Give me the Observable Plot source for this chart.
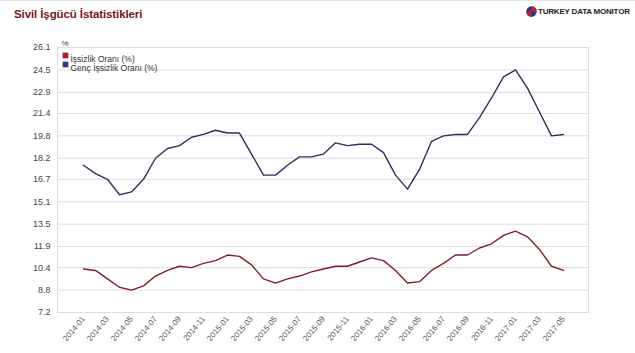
<!DOCTYPE html>
<html>
<head>
<meta charset="utf-8">
<script src="https://cdn.jsdelivr.net/npm/d3@7"></script>
<script src="https://cdn.jsdelivr.net/npm/@observablehq/plot@0.6"></script>
<style>
  html, body { margin: 0; padding: 0; background: #fff; }
  body { width: 635px; height: 353px; overflow: hidden; position: relative; font-family: "Liberation Sans", Arial, sans-serif; border-top: 1px solid #e4e4e4; box-sizing: border-box; }
  #header { position: relative; height: 27px; }
  #title { position: absolute; left: 14px; top: 7px; font-size: 11.5px; font-weight: bold; color: #7a1518; letter-spacing: -0.1px; }
  #logo { position: absolute; left: 526px; top: 5px; display: flex; align-items: center; font-size: 8px; font-weight: bold; color: #222; letter-spacing: -0.2px; }
  #logo svg { margin-right: 1px; }
</style>
</head>
<body>
<div id="header">
  <div id="title">Sivil İşgücü İstatistikleri</div>
  <div id="logo"><svg width="11" height="11" viewBox="0 0 11 11"><circle cx="5.5" cy="5.5" r="5.2" fill="#2b3a8c"/><path d="M5.5 0.3 A5.2 5.2 0 0 1 10.7 5.5 L5.5 5.5 Z" fill="#c8202a"/><path d="M0.3 5.5 A5.2 5.2 0 0 0 5.5 10.7 L5.5 5.5 Z" fill="#c8202a"/></svg>TURKEY DATA MONITOR</div>
</div>
<div id="chart"></div>
<script>
const months = ["2014-01","2014-02","2014-03","2014-04","2014-05","2014-06","2014-07","2014-08","2014-09","2014-10","2014-11","2014-12",
  "2015-01","2015-02","2015-03","2015-04","2015-05","2015-06","2015-07","2015-08","2015-09","2015-10","2015-11","2015-12",
  "2016-01","2016-02","2016-03","2016-04","2016-05","2016-06","2016-07","2016-08","2016-09","2016-10","2016-11","2016-12",
  "2017-01","2017-02","2017-03","2017-04","2017-05"];

// İşsizlik Oranı (%)
const unemployment = [10.3, 10.2, 9.6, 9.0, 8.8, 9.1, 9.8, 10.2, 10.5, 10.4, 10.7, 10.9,
  11.3, 11.2, 10.6, 9.6, 9.3, 9.6, 9.8, 10.1, 10.3, 10.5, 10.5, 10.8,
  11.1, 10.9, 10.2, 9.3, 9.4, 10.2, 10.7, 11.3, 11.3, 11.8, 12.1, 12.7,
  13.0, 12.6, 11.7, 10.5, 10.2];

// Genç İşsizlik Oranı (%)
const youthUnemployment = [17.7, 17.1, 16.7, 15.6, 15.8, 16.7, 18.2, 18.9, 19.1, 19.7, 19.9, 20.2,
  20.0, 20.0, 18.5, 17.0, 17.0, 17.7, 18.3, 18.3, 18.5, 19.3, 19.1, 19.2,
  19.2, 18.6, 17.0, 16.0, 17.4, 19.4, 19.8, 19.9, 19.9, 21.1, 22.5, 24.0,
  24.5, 23.2, 21.5, 19.8, 19.9];

const seriesNames = ["İşsizlik Oranı (%)", "Genç İşsizlik Oranı (%)"];
const lineColors = ["#7d2027", "#2e2f5c"];
const legendColors = ["#c0161e", "#2c3590"];

const yTicks = [7.2, 8.8, 10.4, 11.9, 13.5, 15.1, 16.7, 18.2, 19.8, 21.4, 22.9, 24.5, 26.1];
const xTicks = ["2014-01","2014-03","2014-05","2014-07","2014-09","2014-11","2015-01","2015-03","2015-05","2015-07","2015-09","2015-11",
  "2016-01","2016-03","2016-05","2016-07","2016-09","2016-11","2017-01","2017-03","2017-05"];

const rowsA = months.map((m, i) => ({month: m, value: unemployment[i]}));
const rowsB = months.map((m, i) => ({month: m, value: youthUnemployment[i]}));

const chart = Plot.plot({
  width: 635,
  height: 326,
  marginTop: 19,
  marginBottom: 42,
  marginLeft: 57,
  marginRight: 47,
  style: {fontFamily: "'Liberation Sans', Arial, sans-serif", fontSize: "9px", color: "#444", background: "#fff"},
  x: {type: "point", domain: months, padding: 1.05, label: null},
  y: {domain: [7.2, 26.1], label: null},
  marks: [
    Plot.gridY(yTicks, {stroke: "#dcdcdc", strokeOpacity: 1}),
    Plot.frame({stroke: "#dcdcdc"}),
    Plot.axisY(yTicks, {tickSize: 0, tickPadding: 7, fontSize: 9, tickFormat: d => d.toFixed(1), label: null}),
    Plot.axisX(xTicks, {tickSize: 0, tickPadding: 5, tickRotate: -50, fontSize: 8, fill: "#555", label: null}),
    Plot.line(rowsA, {x: "month", y: "value", stroke: lineColors[0], strokeWidth: 1.4}),
    Plot.line(rowsB, {x: "month", y: "value", stroke: lineColors[1], strokeWidth: 1.4}),
    Plot.text(["%"], {frameAnchor: "top-left", dx: 4, dy: -7, textAnchor: "start", fontSize: 8, fill: "#444"}),
    Plot.dot([seriesNames[0]], {frameAnchor: "top-left", dx: 8, dy: 8, symbol: "square", r: 3, fill: legendColors[0], stroke: "#555", strokeWidth: 0.4}),
    Plot.text([seriesNames[0]], {frameAnchor: "top-left", dx: 13, dy: 8, textAnchor: "start", fontSize: 8.5, fill: "#333"}),
    Plot.dot([seriesNames[1]], {frameAnchor: "top-left", dx: 8, dy: 17, symbol: "square", r: 3, fill: legendColors[1], stroke: "#555", strokeWidth: 0.4}),
    Plot.text([seriesNames[1]], {frameAnchor: "top-left", dx: 13, dy: 17, textAnchor: "start", fontSize: 8.5, fill: "#333"})
  ]
});
document.getElementById("chart").appendChild(chart);
</script>
</body>
</html>
